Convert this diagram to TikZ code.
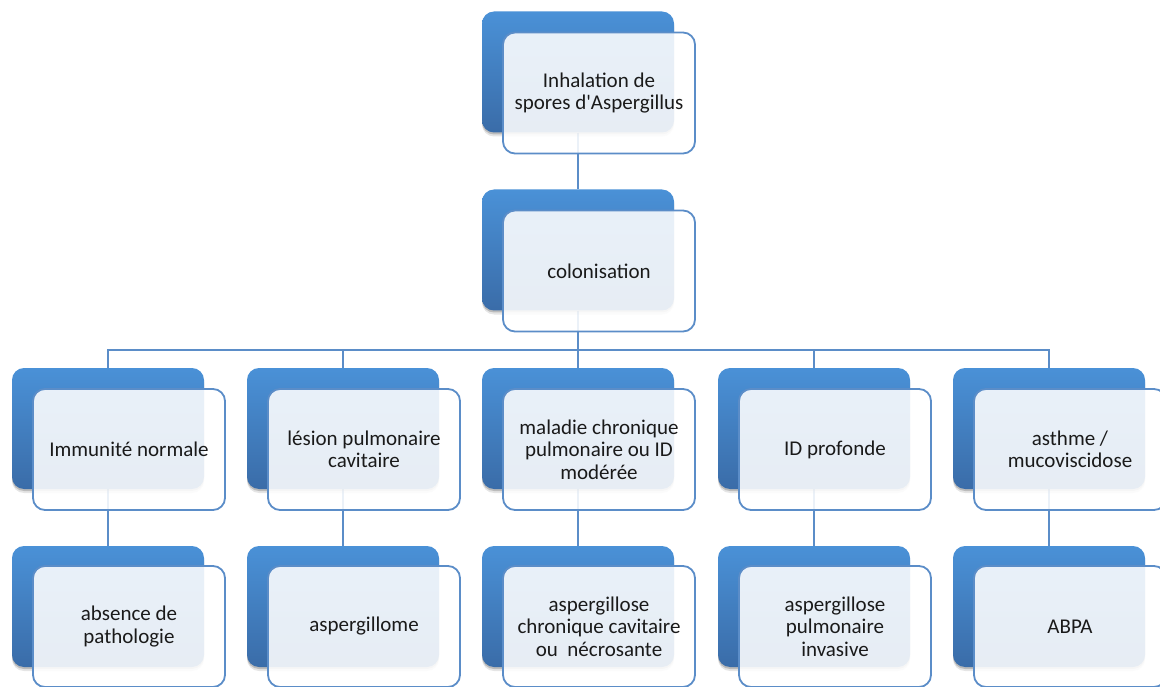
\documentclass[tikz,border=0pt]{standalone}
\usepackage{fontspec}
\setmainfont{Carlito}[Ligatures=TeXOff]
\usetikzlibrary{shadows}
\definecolor{bluetop}{HTML}{4A91D7}
\definecolor{bluebot}{HTML}{3A6CA8}
\definecolor{edgeblue}{HTML}{5B8DC8}
\definecolor{txt}{HTML}{1A1A1A}
\pgfdeclarelayer{bg}
\pgfdeclarelayer{paper}
\pgfsetlayers{paper,bg,main}
\begin{document}
\begin{tikzpicture}[x=1pt,y=-1pt,
  backbox/.style={rectangle, rounded corners=12pt, minimum width=192pt, minimum height=121pt,
    top color=bluetop, bottom color=bluebot, draw=none,
    drop shadow={shadow xshift=0pt, shadow yshift=-2pt, opacity=0.18, fill=black},
    drop shadow={shadow xshift=0pt, shadow yshift=-4pt, opacity=0.10, fill=black}},
  frontbox/.style={rectangle, rounded corners=12pt, minimum width=192pt, minimum height=121pt,
    draw=edgeblue, line width=1.8pt, fill=white, fill opacity=0.88, text opacity=1, text=txt,
    align=center, font=\fontsize{21}{22.5}\selectfont, inner sep=2pt},
  link/.style={draw=edgeblue, line width=1.8pt}]
\useasboundingbox (0,0) rectangle (1160,687);
\begin{pgfonlayer}{paper}
  \fill[white] (0,0) rectangle (1160,687);
\end{pgfonlayer}

% row 0
\node[backbox] (b0) at (578,72) {};
\node[frontbox] (f0) at (599,93) {Inhalation de\\spores d'Aspergillus};
% row 1
\node[backbox] (b1) at (578,250) {};
\node[frontbox] (f1) at (599,271) {colonisation};
% row 2
\node[backbox] (c1) at (108,428.5) {};
\node[frontbox] (g1) at (129,449.5) {Immunité normale};
\node[backbox] (c2) at (343,428.5) {};
\node[frontbox] (g2) at (364,449.5) {lésion pulmonaire\\cavitaire};
\node[backbox] (c3) at (578,428.5) {};
\node[frontbox] (g3) at (599,449.5) {maladie chronique\\pulmonaire ou ID\\modérée};
\node[backbox] (c4) at (814,428.5) {};
\node[frontbox] (g4) at (835,449.5) {ID profonde};
\node[backbox] (c5) at (1049,428.5) {};
\node[frontbox] (g5) at (1070,449.5) {asthme /\\mucoviscidose};
% row 3
\node[backbox] (d1) at (108,606.5) {};
\node[frontbox] (h1) at (129,626.5) {absence de\\pathologie};
\node[backbox] (d2) at (343,606.5) {};
\node[frontbox] (h2) at (364,626.5) {aspergillome};
\node[backbox] (d3) at (578,606.5) {};
\node[frontbox] (h3) at (599,626.5) {aspergillose\\chronique cavitaire\\ou \ nécrosante};
\node[backbox] (d4) at (814,606.5) {};
\node[frontbox] (h4) at (835,626.5) {aspergillose\\pulmonaire\\invasive};
\node[backbox] (d5) at (1049,606.5) {};
\node[frontbox] (h5) at (1070,626.5) {ABPA};

\coordinate (bus) at (578,350);
\begin{pgfonlayer}{bg}
  \draw[link] (b0.south) -- (b1.north);
  \draw[link] (b1.south) -- (b1.south |- bus);
  \draw[link] (c1.north) -- (c1.north |- bus) -- (c5.north |- bus) -- (c5.north);
  \draw[link] (c2.north) -- (c2.north |- bus);
  \draw[link] (c3.north) -- (c3.north |- bus);
  \draw[link] (c4.north) -- (c4.north |- bus);
  \draw[link] (c1.south) -- (d1.north);
  \draw[link] (c2.south) -- (d2.north);
  \draw[link] (c3.south) -- (d3.north);
  \draw[link] (c4.south) -- (d4.north);
  \draw[link] (c5.south) -- (d5.north);
\end{pgfonlayer}
\end{tikzpicture}
\end{document}
